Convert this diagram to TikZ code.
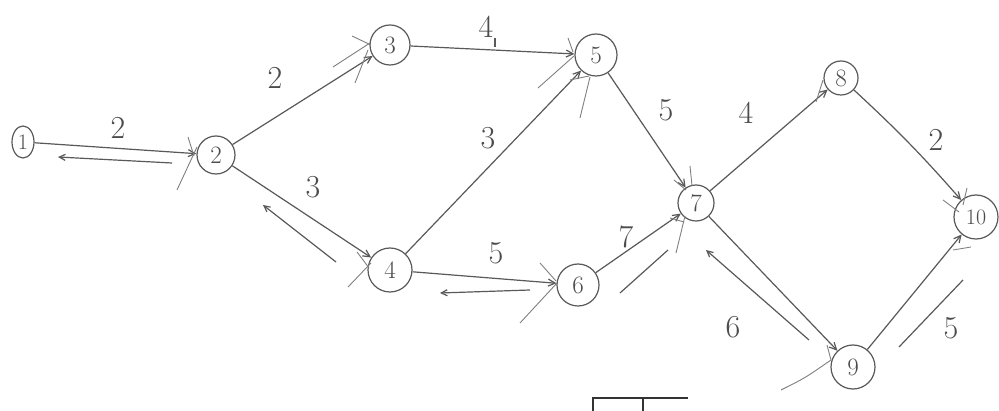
\documentclass[tikz,border=0pt]{standalone}
\usetikzlibrary{arrows.meta,shapes.geometric}
\begin{document}
\begin{tikzpicture}[x=1pt,y=-1pt,
  ink/.style={draw=black!65, line width=1.2pt},
  ev/.style={ink, circle, minimum size=38pt, inner sep=0pt, font=\fontsize{25}{25}\selectfont, text=black!70},
  act/.style={ink, -{Straight Barb[length=7pt,width=7pt]}},
  crit/.style={ink},
  back/.style={ink, -{Straight Barb[length=6pt,width=6pt]}},
  stub/.style={draw=black!50, line width=0.9pt},
  lab/.style={font=\fontsize{32}{32}\selectfont, text=black!70, inner sep=0pt}]
\useasboundingbox[fill=white] (0,0) rectangle (999,411);

% events
\node[ink, ellipse, minimum width=22pt, minimum height=32pt, inner sep=0pt, font=\fontsize{22}{22}\selectfont, text=black!70] (n1) at (23,142) {1};
\node[ev] (n2) at (216,155) {2};
\node[ev, minimum size=40pt] (n3) at (390,45) {3};
\node[ev, minimum size=44pt] (n4) at (390,270) {4};
\node[ev, minimum size=42pt] (n5) at (596,55) {5};
\node[ev, minimum size=42pt] (n6) at (578,285) {6};
\node[ev, minimum size=36pt] (n7) at (696,203) {7};
\node[ev, minimum size=34pt] (n8) at (841,78) {8};
\node[ev, minimum size=44pt] (n9) at (853,367) {9};
\node[ev, minimum size=44pt, font=\fontsize{22}{22}\selectfont] (n10) at (976,217) {10};

% activities
\draw[act] (n1) -- (n2);
\draw[act] (n2) -- (n3);
\draw[act] (n2) -- (n4);
\draw[act] (n3) -- (n5);
\draw[act] (n4) -- (n5);
\draw[act] (n4) -- (n6);
\draw[act] (n5) -- (n7);
\draw[act] (n6) -- (n7);
\draw[act] (n7) -- (n8);
\draw[act] (n7) -- (n9);
\draw[act] (n8) to[bend left=3] (n10);
\draw[act] (n9) -- (n10);

% durations
\node[lab] (d12) at (118,128) {2};
\node[lab] (d23) at (275,78) {2};
\node[lab] (d35) at (486,27) {4};
\node[lab] (d24) at (313,187) {3};
\node[lab] (d45) at (488,138) {3};
\node[lab] (d46) at (496,253) {5};
\node[lab] (d57) at (666,110) {5};
\node[lab] (d67) at (626,237) {7};
\node[lab] (d78) at (746,113) {4};
\node[lab] (d79) at (733,327) {6};
\node[lab] (d810) at (936,140) {2};
\node[lab] (d910) at (951,328) {5};
\coordinate (t35a) at (495,38);
\coordinate (t35b) at (495,47);
\draw[ink] (t35a) -- (t35b);

% critical path marks
\coordinate (c12a) at (58,157);   \coordinate (c12b) at (172,163);
\coordinate (c24a) at (263,205);  \coordinate (c24b) at (336,262);
\coordinate (c46a) at (440,293);  \coordinate (c46b) at (530,290);
\coordinate (c67a) at (620,293);  \coordinate (c67b) at (668,250);
\coordinate (c79a) at (706,250);  \coordinate (c79b) at (809,340);
\coordinate (c910a) at (899,347); \coordinate (c910b) at (963,280);
\draw[back] (c12b) -- (c12a);
\draw[back] (c24b) -- (c24a);
\draw[back] (c46b) -- (c46a);
\draw[crit] (c67a) -- (c67b);
\draw[back] (c79b) -- (c79a);
\draw[crit] (c910a) -- (c910b);

% stray strokes at events
\coordinate (s2a) at (177,190); \coordinate (s2b) at (197,147);
\coordinate (s2c) at (188,137); \coordinate (s2d) at (194,156);
\draw[stub] (s2a) -- (s2b); \draw[stub] (s2c) -- (s2d);
\coordinate (s3a) at (333,67); \coordinate (s3b) at (370,43);
\coordinate (s3c) at (355,83); \coordinate (s3d) at (368,50);
\coordinate (s3e) at (352,36); \coordinate (s3f) at (371,45);
\draw[stub] (s3a) -- (s3b); \draw[stub] (s3c) -- (s3d); \draw[stub] (s3e) -- (s3f);
\coordinate (s4a) at (348,287); \coordinate (s4b) at (371,263);
\coordinate (s4c) at (357,252); \coordinate (s4d) at (369,268);
\draw[stub] (s4a) -- (s4b); \draw[stub] (s4c) -- (s4d);
\coordinate (s5a) at (538,88); \coordinate (s5b) at (574,56);
\coordinate (s5c) at (580,118); \coordinate (s5d) at (590,77);
\coordinate (s5e) at (570,80); \coordinate (s5f) at (589,76);
\coordinate (s5g) at (568,38); \coordinate (s5h) at (573,52);
\draw[stub] (s5a) -- (s5b); \draw[stub] (s5c) -- (s5d); \draw[stub] (s5e) -- (s5f); \draw[stub] (s5g) -- (s5h);
\coordinate (s6a) at (520,323); \coordinate (s6b) at (557,283);
\coordinate (s6c) at (540,263); \coordinate (s6d) at (556,281);
\draw[stub] (s6a) -- (s6b); \draw[stub] (s6c) -- (s6d);
\coordinate (s7a) at (676,253); \coordinate (s7b) at (685,216);
\coordinate (s7c) at (690,166); \coordinate (s7d) at (692,186);
\coordinate (s7e) at (674,180); \coordinate (s7f) at (686,190);
\coordinate (s7g) at (670,218); \coordinate (s7h) at (684,222);
\draw[stub] (s7a) -- (s7b); \draw[stub] (s7c) -- (s7d); \draw[stub] (s7e) -- (s7f); \draw[stub] (s7g) -- (s7h);
\coordinate (s8a) at (816,102); \coordinate (s8b) at (823,80);
\draw[stub] (s8a) -- (s8b);
\coordinate (s9a) at (781,390); \coordinate (s9b) at (831,360);
\draw[stub] (s9a) .. controls (805,378) .. (s9b);
\coordinate (s9c) at (827,345); \coordinate (s9d) at (831,360);
\draw[stub] (s9c) -- (s9d);
\coordinate (s10a) at (953,250); \coordinate (s10b) at (971,247);
\coordinate (s10c) at (943,200); \coordinate (s10d) at (959,212);
\coordinate (s10e) at (967,188); \coordinate (s10f) at (963,205);
\draw[stub] (s10a) -- (s10b); \draw[stub] (s10c) -- (s10d); \draw[stub] (s10e) -- (s10f);

% partial table at the bottom
\coordinate (tb1) at (593,411); \coordinate (tb2) at (593,398);
\coordinate (tb3) at (688,398); \coordinate (tb4) at (643,398);
\coordinate (tb5) at (643,411);
\draw[draw=black!80, line width=1.1pt] (tb1) -- (tb2) -- (tb3);
\draw[draw=black!80, line width=1.1pt] (tb4) -- (tb5);
\end{tikzpicture}
\end{document}
